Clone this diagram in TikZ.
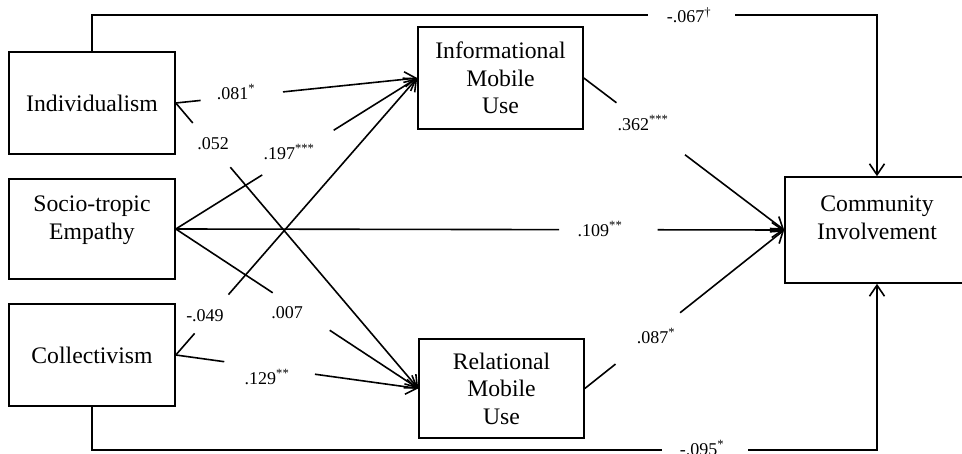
\documentclass[tikz,border=0pt]{standalone}
\usepackage{fontspec}
\setmainfont{Liberation Serif}
\usetikzlibrary{arrows.meta,calc}
\begin{document}
\begin{tikzpicture}[x=1pt,y=-1pt,
  box/.style={draw,line width=1.6pt,inner sep=0pt,align=center,font=\fontsize{23.7}{27.5}\selectfont},
  boxtext/.style={inner sep=0pt,align=center,font=\fontsize{23.7}{28}\selectfont},
  conn/.style={line width=1.6pt},
  arr/.style={conn,-{Straight Barb[length=11pt,width=15pt,line width=1.6pt]}},
  lab/.style={font=\fontsize{18}{20}\selectfont,inner sep=0pt}
]
\useasboundingbox (0,0) rectangle (962,454);
% boxes
\node[box,minimum width=166pt,minimum height=102pt] (ind) at (92,103) {Individualism};
\node[box,minimum width=166pt,minimum height=100pt] (soc) at (92,229) {};
\node[boxtext] (soct) at ($(soc.center)+(0,-9)$) {Socio-tropic\\Empathy};
\node[box,minimum width=166pt,minimum height=102pt] (col) at (92,355) {Collectivism};
\node[box,minimum width=165pt,minimum height=102pt] (info) at (500.5,78) {Informational\\Mobile\\Use};
\node[box,minimum width=165pt,minimum height=99pt] (rel) at (501.5,388.5) {Relational\\Mobile\\Use};
\node[box,minimum width=184pt,minimum height=106pt] (com) at (877,230) {};
\node[boxtext] (comt) at ($(com.center)+(0,-12)$) {Community\\Involvement};
% individualism -> informational
\draw[conn] (ind.east) -- ($(ind.east)!0.103!(info.west)$);
\draw[arr] ($(ind.east)!0.444!(info.west)$) -- (info.west);
\node[lab] (l1) at (236,92) {.081\textsuperscript{*}};
% individualism -> relational
\draw[conn] (ind.east) -- ($(ind.east)!0.07!(rel.west)$);
\draw[arr] ($(ind.east)!0.225!(rel.west)$) -- (rel.west);
\node[lab] (l2) at (213,144) {.052};
% socio -> informational
\draw[conn] (soc.east) -- ($(soc.east)!0.358!(info.west)$);
\draw[arr] ($(soc.east)!0.654!(info.west)$) -- (info.west);
\node[lab] (l3) at (289,152) {.197\textsuperscript{***}};
% socio -> community
\draw[conn] (soc.east) -- ($(soc.east)!0.63!(com.west)$);
\draw[arr] ($(soc.east)!0.792!(com.west)$) -- (com.west);
\node[lab] (l4) at (600,229) {.109\textsuperscript{**}};
% socio -> relational
\draw[conn] (soc.east) -- ($(soc.east)!0.40!(rel.west)$);
\draw[arr] ($(soc.east)!0.635!(rel.west)$) -- (rel.west);
\node[lab] (l5) at (287,313) {.007};
% collectivism -> informational
\draw[conn] (col.east) -- ($(col.east)!0.078!(info.west)$);
\draw[arr] ($(col.east)!0.218!(info.west)$) -- (info.west);
\node[lab] (l6) at (205,316) {-.049};
% collectivism -> relational
\draw[conn] (col.east) -- ($(col.east)!0.2!(rel.west)$);
\draw[arr] ($(col.east)!0.574!(rel.west)$) -- (rel.west);
\node[lab] (l7) at (267,377) {.129\textsuperscript{**}};
% informational -> community
\draw[conn] (info.east) -- ($(info.east)!0.163!(com.west)$);
\draw[arr] ($(info.east)!0.505!(com.west)$) -- (com.west);
\node[lab] (l8) at (643,123) {.362\textsuperscript{***}};
% relational -> community
\draw[conn] (rel.east) -- ($(rel.east)!0.154!(com.west)$);
\draw[arr] ($(rel.east)!0.478!(com.west)$) -- (com.west);
\node[lab] (l9) at (656,336) {.087\textsuperscript{*}};
% top path individualism -> community
\coordinate (tl) at (648,15);
\coordinate (tr) at (735,15);
\draw[conn] (ind.north) |- (tl);
\draw[arr] (tr) -| (com.north);
\node[lab] (l10) at (689,15) {-.067\textsuperscript{†}};
% bottom path collectivism -> community
\coordinate (bl) at (662,450);
\coordinate (br) at (748,450);
\draw[conn] (col.south) |- (bl);
\draw[arr] (br) -| (com.south);
\node[lab] (l11) at (702,448) {-.095\textsuperscript{*}};
\end{tikzpicture}
\end{document}
